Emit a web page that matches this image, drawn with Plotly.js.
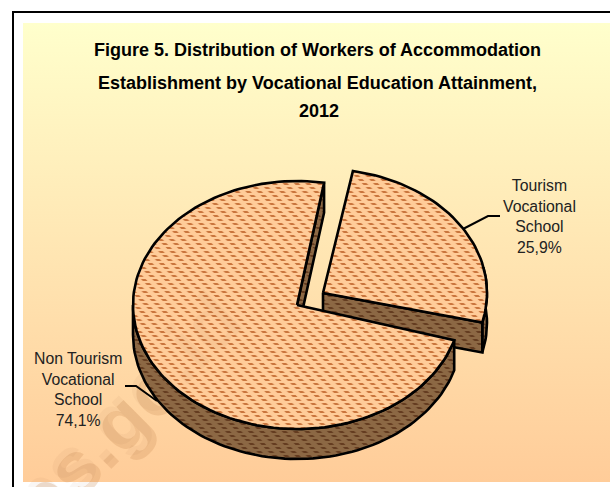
<!DOCTYPE html>
<html><head><meta charset="utf-8">
<script src="https://cdn.plot.ly/plotly-3.0.1.min.js"></script>
<style>html,body{margin:0;padding:0;background:#fff}
#wrap{position:relative;width:610px;height:487px;background:#fff}
#panel{position:absolute;left:23px;top:23px;width:587px;height:459px;background:linear-gradient(#FFFFCC,#FFCC99)}
#c{position:absolute;left:0;top:0;width:610px;height:487px}</style>
</head><body><div id="wrap"><div id="panel"></div><div id="c"></div></div>
<script>
const categories = ["Tourism Vocational School", "Non Tourism Vocational School"];
const shares = [25.9, 74.1];
const shareLabels = ["25,9%", "74,1%"];
const titleLines = ["Figure 5. Distribution of Workers of Accommodation", "Establishment by Vocational Education Attainment,", "2012"];
const watermark = "bps.go.id";

const W = 610, H = 487;
const RX = 164, RY = 124, DEPTH = 30, START = 10.5;
const mainC = [297, 305], tourC = [323, 293];
const NONE = 'rgba(0,0,0,0)';
const FACE = {bg:'#FFCC99', fg:'#C9743C', gap:'#FFCC99'};
const WALL = {bg:'#8C6844', fg:'#643C20', gap:'#8C6844'};
const total = shares.reduce((a,b)=>a+b,0);
const a0 = START, a1 = a0 + 360*shares[0]/total, a2 = a0 + 360;
const pt = (c,deg,dy=0)=>{const r=deg*Math.PI/180;return [c[0]+RX*Math.sin(r), c[1]-RY*Math.cos(r)+dy];};
function arc(c,from,to,dy=0){const out=[];const n=Math.ceil(Math.abs(to-from)/2);for(let i=0;i<=n;i++)out.push(pt(c,from+(to-from)*i/n,dy));return out;}
const traces = [];
function poly(points,st,name){
  const x=points.map(p=>p[0]), y=points.map(p=>p[1]);
  traces.push({type:'scatter',mode:'lines',x,y,fill:'toself',fillcolor:st.bg,
    fillpattern:{shape:'\\',fgcolor:st.fg,bgcolor:st.bg,size:8,solidity:0.42},line:{width:0},hoverinfo:'skip',showlegend:false,name});
  traces.push({type:'scatter',mode:'lines',x,y,fill:'toself',fillcolor:NONE,
    fillpattern:{shape:'-',fgcolor:st.gap,bgcolor:NONE,size:4,solidity:0.5},line:{color:'#000',width:2.6},hoverinfo:'skip',showlegend:false,name});
}
const close = p=>p.concat([p[0]]);
// projection correction of the main slice's cut edges
const mFrom = a1 + 2.8, mTo = a2 - 1;
// tourism slice
const tEnd = pt(tourC,a1), tEndB = pt(tourC,a1,DEPTH);
poly(close(arc(tourC,78,a1,0).concat(arc(tourC,a1,78,DEPTH))),WALL,'tourism outer wall');
poly(close([tourC,tEnd,tEndB,[tourC[0],tourC[1]+DEPTH]]),WALL,'tourism cut wall');
poly(close([tourC].concat(arc(tourC,a0,a1))),FACE,categories[0]);
// main slice
const mTop = pt(mainC,mTo), mTopB = pt(mainC,mTo,DEPTH);
poly(close([mainC,mTop,mTopB,[mainC[0],mainC[1]+DEPTH]]),WALL,'main cut wall');
poly(close(arc(mainC,mFrom,270).concat(arc(mainC,270,mFrom,DEPTH))),WALL,'main outer wall');
poly(close([mainC].concat(arc(mainC,mFrom,mTo))),FACE,categories[1]);

const labelFont = {family:'Liberation Sans, Arial, sans-serif',size:15.8,color:'#222'};
const titleFont = {family:'Liberation Sans, Arial, sans-serif',size:18,color:'#000',weight:700};
const wmFont = c=>({family:'Liberation Sans, Arial, sans-serif',size:76,color:c,weight:700});
const wrapLabel = (s,p)=>s.replace(' Vocational School','<br>Vocational<br>School')+'<br>'+p;
const WM = [108,425];
const annotations = [
  {x:317,y:50,xref:'x',yref:'y',text:titleLines[0],showarrow:false,font:titleFont,xanchor:'center',yanchor:'middle'},
  {x:317,y:83,xref:'x',yref:'y',text:titleLines[1],showarrow:false,font:titleFont,xanchor:'center',yanchor:'middle'},
  {x:319,y:111,xref:'x',yref:'y',text:titleLines[2],showarrow:false,font:titleFont,xanchor:'center',yanchor:'middle'},
  {x:539,y:216,xref:'x',yref:'y',text:wrapLabel(categories[0],shareLabels[0]),showarrow:false,font:labelFont,align:'center',xanchor:'center',yanchor:'middle'},
  {x:78,y:389,xref:'x',yref:'y',text:wrapLabel(categories[1],shareLabels[1]),showarrow:false,font:labelFont,align:'center',xanchor:'center',yanchor:'middle'},
  {x:WM[0],y:WM[1],xref:'x',yref:'y',text:watermark,showarrow:false,textangle:-45,font:wmFont('rgba(150,100,60,0.06)'),xanchor:'center',yanchor:'middle'}
];
// leader lines
traces.push({type:'scatter',mode:'lines',x:[500,488,463],y:[216,216,229],line:{color:'#000',width:2},hoverinfo:'skip',showlegend:false});
traces.push({type:'scatter',mode:'lines',x:[125,136,157],y:[386,386,401],line:{color:'#000',width:2},hoverinfo:'skip',showlegend:false});

const layout = {width:W,height:H,margin:{l:0,r:0,t:0,b:0},paper_bgcolor:NONE,plot_bgcolor:NONE,showlegend:false,
  xaxis:{range:[0,W],visible:false,fixedrange:true},yaxis:{range:[H,0],visible:false,fixedrange:true},
  annotations,
  shapes:[
    {type:'rect',layer:'below',xref:'x',yref:'y',x0:WM[0]-60,x1:WM[0]+60,y0:WM[1]-60,y1:WM[1]+60,line:{width:0},fillcolor:NONE,
      label:{text:watermark,textangle:-45,textposition:'middle center',font:wmFont('rgba(200,140,85,0.26)')}},
    {type:'line',xref:'x',yref:'y',x0:13,x1:13,y0:12,y1:H,line:{color:'#000',width:2}},
    {type:'line',xref:'x',yref:'y',x0:12,x1:W,y0:12,y1:12,line:{color:'#000',width:2}}
  ]};
Plotly.newPlot('c',traces,layout,{displayModeBar:false,staticPlot:true});
</script></body></html>
